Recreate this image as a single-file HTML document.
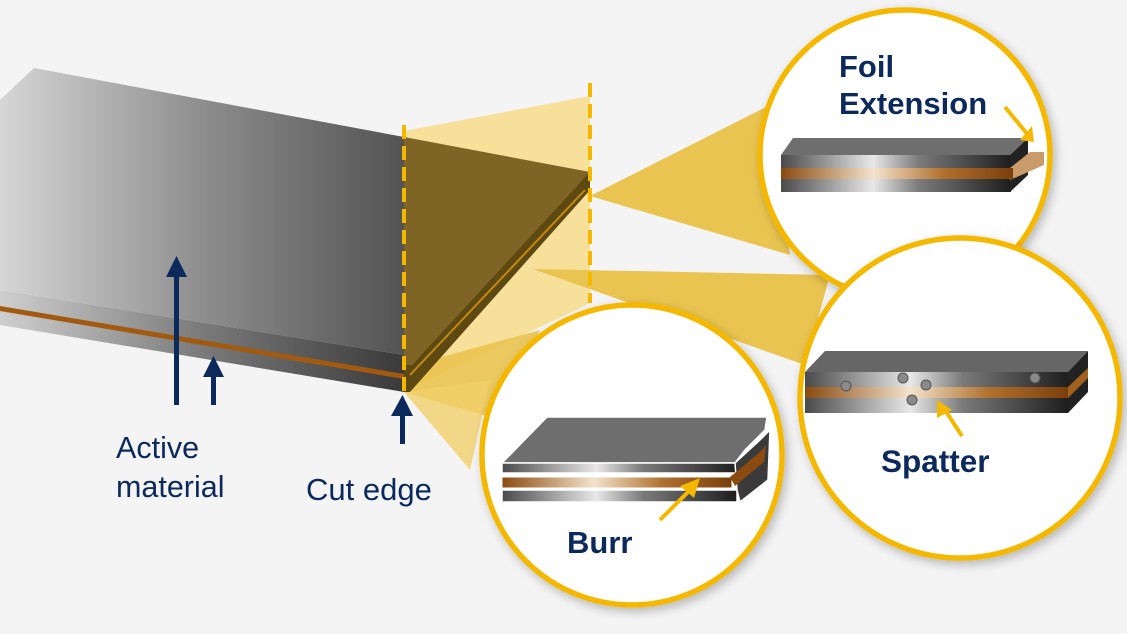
<!DOCTYPE html>
<html><head><meta charset="utf-8"><style>
html,body{margin:0;padding:0;background:#f4f4f4;}
svg{display:block;}
text{font-family:"Liberation Sans",Arial,sans-serif;fill:#0b2a5b;}
</style></head><body>
<svg width="1127" height="634" viewBox="0 0 1127 634" xmlns="http://www.w3.org/2000/svg">
<defs>
<linearGradient id="top" x1="0" y1="0" x2="1" y2="0">
<stop offset="0" stop-color="#d6d6d6"/><stop offset="0.5" stop-color="#8e8e8e"/><stop offset="1" stop-color="#535353"/></linearGradient>
<linearGradient id="side" x1="0" y1="0" x2="1" y2="0">
<stop offset="0" stop-color="#cfcfcf"/><stop offset="0.5" stop-color="#7a7a7a"/><stop offset="1" stop-color="#3a3a3a"/></linearGradient>
<linearGradient id="met" x1="0" y1="0" x2="1" y2="0">
<stop offset="0" stop-color="#4a4a4a"/><stop offset="0.4" stop-color="#e8e8e8"/><stop offset="0.6" stop-color="#7a7a7a"/><stop offset="1" stop-color="#1e1e1e"/></linearGradient>
<linearGradient id="cu" x1="0" y1="0" x2="1" y2="0">
<stop offset="0" stop-color="#8a4a10"/><stop offset="0.4" stop-color="#f3e3cc"/><stop offset="0.7" stop-color="#b0702e"/><stop offset="1" stop-color="#7a3f0c"/></linearGradient>
<filter id="sh" x="-20%" y="-20%" width="140%" height="140%"><feDropShadow dx="3" dy="4" stdDeviation="5" flood-color="#000" flood-opacity="0.25"/></filter>
</defs>

<polygon points="404,131 590,96 590,303 404,392" fill="#f7dc8a" opacity="0.85"/>
<polygon points="590,196 770,105 790,255" fill="#eac450"/>
<polygon points="533,269 830,275 805,365" fill="#eac450"/>
<polygon points="413,365 404,392 500,420 540,330" fill="#eac450" opacity="0.9"/>
<polygon points="404,392 470,470 490,380" fill="#f1d06a" opacity="0.8"/>

<polygon points="34,68 404,137 404,355 0,290 0,100" fill="url(#top)"/>
<polygon points="0,290 404,355 404,392 0,325" fill="url(#side)"/>
<polygon points="0,306 404,374 404,379 0,311" fill="#a25a10"/>
<polygon points="404,137 590,172 590,180 412,365 404,365" fill="#7e6526"/>
<polygon points="590,172 590,190 410,392 404,392 404,365 412,365" fill="#5e4912"/>
<line x1="585" y1="190" x2="410" y2="375" stroke="#c48a10" stroke-width="2"/>
<line x1="404" y1="125" x2="404" y2="392" stroke="#f5b800" stroke-width="4" stroke-dasharray="14,7"/>
<line x1="590" y1="83" x2="590" y2="303" stroke="#f5b800" stroke-width="4" stroke-dasharray="14,7"/>

<g fill="#0b2a5b">
<rect x="174" y="275" width="5" height="130"/><polygon points="166,277 187,277 176.5,256"/>
<rect x="211" y="375" width="5" height="30"/><polygon points="203,377 224,377 213.5,356"/>
<rect x="400" y="414" width="5" height="30"/><polygon points="391,416 413,416 402.5,395"/>
</g>
<text x="116" y="458" font-size="30.5">Active</text>
<text x="116" y="497" font-size="30.5">material</text>
<text x="306" y="500" font-size="31">Cut edge</text>

<circle cx="905" cy="155" r="145" fill="#fff" stroke="#f5b800" stroke-width="5.5" filter="url(#sh)"/>
<text x="839" y="77" font-size="31" font-weight="bold">Foil</text>
<text x="839" y="114" font-size="31" font-weight="bold">Extension</text>
<polygon points="781,155 793,138 1028,138 1010,155" fill="#6e6e6e"/>
<rect x="781" y="155" width="230" height="37" fill="url(#met)"/>
<polygon points="1010,155 1028,138 1028,175 1010,192" fill="#222"/>
<polygon points="1010,168 1030,152 1044,152 1044,165 1010,180" fill="#c99a6a"/>
<rect x="781" y="168" width="232" height="11" fill="url(#cu)"/>
<line x1="1005" y1="107" x2="1028" y2="135" stroke="#f5b800" stroke-width="4"/>
<polygon points="1020,140 1034,142 1032,126" fill="#f5b800"/>

<circle cx="960" cy="398" r="160" fill="#fff" stroke="#f5b800" stroke-width="5.5" filter="url(#sh)"/>
<polygon points="805,372 825,351 1088,351 1068,372" fill="#666"/>
<rect x="805" y="372" width="263" height="41" fill="url(#met)"/>
<polygon points="1068,372 1088,351 1088,392 1068,413" fill="#222"/>
<rect x="805" y="387" width="263" height="11" fill="url(#cu)"/>
<polygon points="1068,387 1088,368 1088,378 1068,398" fill="#a0621c"/>
<g fill="#8a8a8a" stroke="#555" stroke-width="1">
<circle cx="846" cy="386" r="5"/><circle cx="903" cy="378" r="5"/><circle cx="926" cy="385" r="5"/><circle cx="912" cy="400" r="5"/><circle cx="1035" cy="378" r="5"/></g>
<line x1="962" y1="436" x2="945" y2="410" stroke="#f5b800" stroke-width="4"/>
<polygon points="937,400 937,418 952,410" fill="#f5b800"/>
<text x="881" y="472" font-size="31.5" font-weight="bold">Spatter</text>

<circle cx="632" cy="455" r="150" fill="#fff" stroke="#f5b800" stroke-width="5.5" filter="url(#sh)"/>
<polygon points="502,463 547,417 767,417 765,430 745,450 735,463" fill="#6e6e6e" stroke="#fff" stroke-width="1.5"/>
<rect x="502" y="463" width="235" height="10" fill="url(#met)" stroke="#fff" stroke-width="1.5"/>
<rect x="502" y="477" width="230" height="11" fill="url(#cu)" stroke="#fff" stroke-width="1"/>
<rect x="502" y="490" width="235" height="12" fill="url(#met)" stroke="#fff" stroke-width="1.5"/>
<polygon points="735,463 760,440 770,430 768,480 740,502 737,490" fill="#3a3a3a" stroke="#fff" stroke-width="1.5"/>
<polygon points="730,477 760,452 766,445 764,462 735,486" fill="#8a4a10"/>
<line x1="660" y1="520" x2="690" y2="490" stroke="#f5b800" stroke-width="4"/>
<polygon points="700,478 680,486 694,498" fill="#f5b800"/>
<text x="567" y="553" font-size="31" font-weight="bold">Burr</text>
</svg>
</body></html>
